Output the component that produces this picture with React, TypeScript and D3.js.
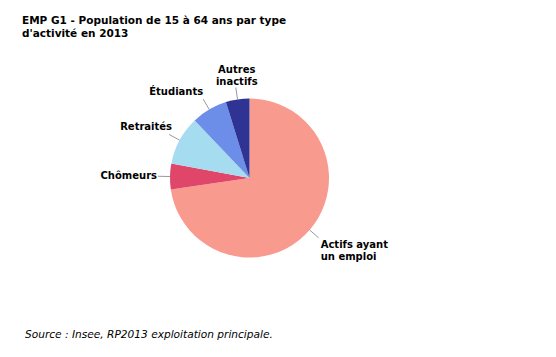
import React from "react";
import * as d3 from "d3";

const categories = ["Actifs ayant un emploi", "Chômeurs", "Retraités", "Étudiants", "Autres inactifs"];
const labelLines = [["Actifs ayant", "un emploi"], ["Chômeurs"], ["Retraités"], ["Étudiants"], ["Autres", "inactifs"]];
const values = [72.7, 5.2, 10.0, 7.3, 4.8];
const colors = ["#F99A8F", "#E0466A", "#A6DCF0", "#6C8DE8", "#2E3394"];
const titleLines = ["EMP G1 - Population de 15 à 64 ans par type", "d'activité en 2013"];
const sourceText = "Source : Insee, RP2013 exploitation principale.";

export default function App() {
  const W = 556, H = 357;
  const cx = 249.5, cy = 178, r = 79.5;
  const pie = d3.pie<number>().sort(null).value((d) => d)(values);
  const arc = d3.arc<d3.PieArcDatum<number>>().innerRadius(0).outerRadius(r);
  const pt = (a: number, rad: number) => [Math.sin(a) * rad, -Math.cos(a) * rad];
  const font = "'DejaVu Sans', Verdana, sans-serif";

  return (
    <svg width={W} height={H} style={{ position: "absolute", left: 0, top: 0, background: "#fff" }}>
      <rect width={W} height={H} fill="#fff" />
      <g fontFamily={font} fontWeight="bold" fontSize={10.5} fill="#000">
        {titleLines.map((t, i) => (
          <text key={i} x={22} y={24 + i * 13}>{t}</text>
        ))}
      </g>
      <g transform={`translate(${cx},${cy})`}>
        {pie.map((p, i) => (
          <path key={i} d={arc(p) || ""} fill={colors[i]} stroke="none" />
        ))}
        {pie.map((p, i) => {
          const mid = (p.startAngle + p.endAngle) / 2;
          const [x0, y0] = pt(mid, r);
          const [x1, y1] = pt(mid, r + 12);
          const right = x1 > 0;
          const top = Math.abs(x1) < 20;
          const lines = labelLines[i];
          let tx = x1, ty = y1, anchor = "end";
          if (top) { anchor = "middle"; tx = x1 + 1; ty = y1 - 3 - (lines.length - 1) * 12; }
          else if (right) { anchor = "start"; tx = x1 + 2; ty = y1 + 10; }
          else if (Math.abs(y1) < 10) { tx = x1 - 1; ty = y1 + 3; }
          else if (y1 < -60) { tx = x1; ty = y1 - 4; }
          else { tx = x1 + 3; ty = y1 - 4; }
          return (
            <g key={"l" + i}>
              <line x1={x0} y1={y0} x2={x1} y2={y1} stroke="#999" strokeWidth={1} />
              <text x={tx} y={ty} textAnchor={anchor} fontFamily={font} fontWeight="bold" fontSize={10} fill="#000">
                {lines.map((l, j) => (
                  <tspan key={j} x={tx} dy={j === 0 ? 0 : 12.5}>{l}</tspan>
                ))}
              </text>
            </g>
          );
        })}
      </g>
      <text x={25} y={338} fontFamily={font} fontStyle="italic" fontSize={10.6} fill="#000">{sourceText}</text>
    </svg>
  );
}
